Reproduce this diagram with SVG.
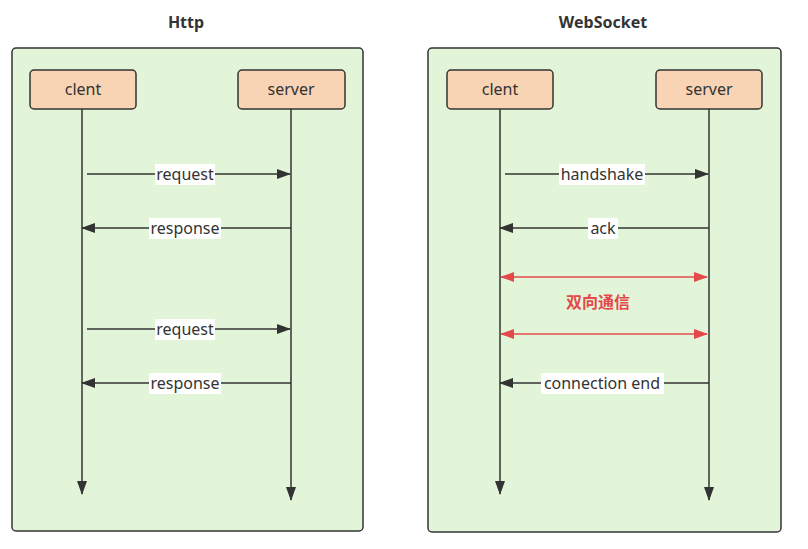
<svg xmlns="http://www.w3.org/2000/svg" width="808" height="549" viewBox="0 0 808 549">
<style>
.panel{fill:#e3f5d8;stroke:#333;stroke-width:1.5}
.box{fill:#f8d4b4;stroke:#333;stroke-width:1.5}
.lbl{font-family:"Noto Sans","Open Sans",sans-serif;font-size:16px;fill:#333;text-anchor:middle}
.title{font-family:"Noto Sans","Open Sans",sans-serif;font-size:16px;font-weight:bold;fill:#333;text-anchor:middle}
.line{stroke:#333;stroke-width:1.5;fill:none}
.red{stroke:#e54848;stroke-width:1.5;fill:none}
.bg{fill:#ffffff}
</style>
<defs>
<marker id="ah" markerWidth="14" markerHeight="10" refX="13" refY="5" orient="auto" markerUnits="userSpaceOnUse">
<path d="M0,0 L14,5 L0,10 z" fill="#333"/>
</marker>
<marker id="ahr" markerWidth="14" markerHeight="10" refX="13" refY="5" orient="auto" markerUnits="userSpaceOnUse">
<path d="M0,0 L14,5 L0,10 z" fill="#e54848"/>
</marker>
<marker id="ahrs" markerWidth="14" markerHeight="10" refX="1" refY="5" orient="auto" markerUnits="userSpaceOnUse">
<path d="M14,0 L0,5 L14,10 z" fill="#e54848"/>
</marker>
</defs>
<text class="title" x="186" y="28">Http</text>
<text class="title" x="603" y="28">WebSocket</text>
<g id="panel-http"><rect class="panel" x="12" y="48" width="351" height="483" rx="4"/></g>
<g id="panel-ws"><rect class="panel" x="428" y="48" width="353" height="484" rx="4"/></g>
<g id="connectors">
<line class="line" x1="82" y1="109" x2="82" y2="494" marker-end="url(#ah)"/>
<line class="line" x1="291" y1="109" x2="291" y2="500" marker-end="url(#ah)"/>
<line class="line" x1="500" y1="109" x2="500" y2="494" marker-end="url(#ah)"/>
<line class="line" x1="709" y1="109" x2="709" y2="500" marker-end="url(#ah)"/>
<line class="line" x1="87" y1="174" x2="290" y2="174" marker-end="url(#ah)"/>
<line class="line" x1="291" y1="228" x2="82" y2="228" marker-end="url(#ah)"/>
<line class="line" x1="87" y1="329" x2="290" y2="329" marker-end="url(#ah)"/>
<line class="line" x1="291" y1="383" x2="82" y2="383" marker-end="url(#ah)"/>
<line class="line" x1="505" y1="174" x2="708" y2="174" marker-end="url(#ah)"/>
<line class="line" x1="709" y1="228" x2="500" y2="228" marker-end="url(#ah)"/>
<line class="red" x1="501" y1="277" x2="707" y2="277" marker-start="url(#ahrs)" marker-end="url(#ahr)"/>
<line class="red" x1="501" y1="334" x2="707" y2="334" marker-start="url(#ahrs)" marker-end="url(#ahr)"/>
<line class="line" x1="709" y1="383" x2="500" y2="383" marker-end="url(#ah)"/>
<rect class="bg" x="155" y="164" width="60" height="21"/>
<text class="lbl" x="185" y="180">request</text>
<rect class="bg" x="149" y="218" width="72" height="21"/>
<text class="lbl" x="185" y="234">response</text>
<rect class="bg" x="155" y="319" width="60" height="21"/>
<text class="lbl" x="185" y="335">request</text>
<rect class="bg" x="149" y="373" width="72" height="21"/>
<text class="lbl" x="185" y="389">response</text>
<rect class="bg" x="559" y="164" width="86" height="21"/>
<text class="lbl" x="602" y="180">handshake</text>
<rect class="bg" x="588" y="218" width="30" height="21"/>
<text class="lbl" x="603" y="234">ack</text>
<rect class="bg" x="541" y="373" width="123" height="21"/>
<text class="lbl" x="602" y="389">connection end</text>
<text x="598" y="308" style="font-family:'Noto Sans CJK SC',sans-serif;font-size:16px;font-weight:bold;fill:#e54848;text-anchor:middle">双向通信</text>
</g>
<g id="http-client"><rect class="box" x="30" y="70" width="106" height="39" rx="4"/><text class="lbl" x="83" y="95">clent</text></g>
<g id="http-server"><rect class="box" x="238" y="70" width="107" height="39" rx="4"/><text class="lbl" x="291" y="95">server</text></g>
<g id="ws-client"><rect class="box" x="447" y="70" width="106" height="39" rx="4"/><text class="lbl" x="500" y="95">clent</text></g>
<g id="ws-server"><rect class="box" x="656" y="70" width="106" height="39" rx="4"/><text class="lbl" x="709" y="95">server</text></g>
</svg>
